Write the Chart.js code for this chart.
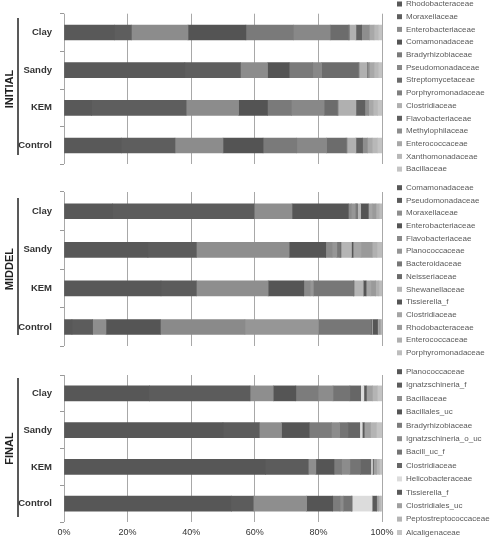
<!DOCTYPE html>
<html>
<head>
<meta charset="utf-8">
<script src="https://cdn.jsdelivr.net/npm/chart.js@4.4.1/dist/chart.umd.min.js"></script>
<style>
body { margin: 0; background: #fff; }
#wrap { position: relative; width: 493px; height: 541px; overflow: hidden; }
canvas { position: absolute; left: 0; }
</style>
</head>
<body>
<div id="wrap">
<canvas id="initial" width="493" height="178" style="top:0px"></canvas>
<canvas id="middel" width="493" height="185" style="top:175px"></canvas>
<canvas id="final" width="493" height="186" style="top:355px"></canvas>
</div>
<script>
var sites = ['Clay', 'Sandy', 'KEM', 'Control'];
var percentTicks = ['0%', '20%', '40%', '60%', '80%', '100%'];

// INITIAL
var initialFamilies = ['Rhodobacteraceae', 'Moraxellaceae', 'Enterobacteriaceae', 'Comamonadaceae',
    'Bradyrhizobiaceae', 'Pseudomonadaceae', 'Streptomycetaceae', 'Porphyromonadaceae', 'Clostridiaceae',
    'Flavobacteriaceae', 'Methylophilaceae', 'Enterococcaceae', 'Xanthomonadaceae', 'Bacillaceae'];
var initialShades = ['#595959', '#5e5e5e', '#8c8c8c', '#545454', '#7a7a7a', '#888888', '#6c6c6c',
    '#7f7f7f', '#b0b0b0', '#606060', '#8e8e8e', '#a8a8a8', '#b8b8b8', '#c4c4c4'];
var initialClay = [15.8, 5.4, 17.8, 18.2, 14.9, 11.6, 5.7, 0.4, 2.0, 1.8, 2.4, 1.5, 1.3, 1.2];
var initialSandy = [38.0, 17.5, 8.5, 6.8, 7.4, 2.8, 11.5, 0.3, 2.5, 0.2, 0.5, 1.5, 1.3, 1.2];
var initialKem = [8.7, 29.7, 16.5, 9.1, 7.5, 10.3, 4.1, 0.3, 5.6, 2.8, 1.2, 1.4, 1.4, 1.4];
var initialControl = [18.0, 16.9, 15.1, 12.6, 10.6, 9.4, 6.1, 0.3, 2.8, 2.1, 1.5, 1.5, 1.6, 1.5];

// MIDDEL
var middelFamilies = ['Comamonadaceae', 'Pseudomonadaceae', 'Moraxellaceae', 'Enterobacteriaceae',
    'Flavobacteriaceae', 'Planococcaceae', 'Bacteroidaceae', 'Neisseriaceae', 'Shewanellaceae',
    'Tissierella_f', 'Clostridiaceae', 'Rhodobacteraceae', 'Enterococcaceae', 'Porphyromonadaceae'];
var middelShades = ['#585858', '#5c5c5c', '#8e8e8e', '#555555', '#8a8a8a', '#969696', '#777777',
    '#6a6a6a', '#b5b5b5', '#555555', '#a5a5a5', '#9a9a9a', '#b0b0b0', '#bdbdbd'];
var middelClay = [15.2, 44.6, 11.9, 17.7, 1.0, 1.2, 0.4, 0.3, 1.0, 2.4, 1.2, 1.2, 1.0, 0.9];
var middelSandy = [26.4, 15.2, 29.2, 11.5, 2.0, 1.5, 1.0, 0.3, 3.3, 0.5, 2.5, 3.5, 1.5, 1.6];
var middelKem = [30.5, 11.1, 22.6, 11.2, 2.0, 1.0, 12.6, 0.2, 2.9, 0.9, 1.5, 1.5, 1.0, 1.0];
var middelControl = [2.5, 6.5, 4.2, 17.1, 26.6, 23.1, 16.5, 0.3, 0.2, 1.6, 0.4, 0.4, 0.3, 0.3];

// FINAL
var finalFamilies = ['Planococcaceae', 'Ignatzschineria_f', 'Bacillaceae', 'Bacillales_uc',
    'Bradyrhizobiaceae', 'Ignatzschineria_o_uc', 'Bacill_uc_f', 'Clostridiaceae', 'Helicobacteraceae',
    'Tissierella_f', 'Clostridiales_uc', 'Peptostreptococcaceae', 'Alcaligenaceae'];
var finalShades = ['#575757', '#5c5c5c', '#8e8e8e', '#555555', '#7c7c7c', '#8c8c8c', '#747474',
    '#666666', '#dcdcdc', '#5a5a5a', '#a0a0a0', '#b4b4b4', '#c4c4c4'];
var finalClay = [26.9, 31.6, 7.3, 7.1, 7.0, 4.7, 5.3, 3.4, 1.0, 0.8, 1.9, 1.5, 1.5];
var finalSandy = [50.0, 11.4, 7.0, 8.7, 7.0, 2.6, 2.6, 3.7, 0.8, 0.6, 2.0, 1.8, 1.8];
var finalKem = [63.3, 13.5, 2.4, 5.7, 2.4, 2.6, 3.3, 3.3, 0.5, 0.3, 1.0, 0.9, 0.8];
var finalControl = [52.7, 6.8, 16.8, 8.2, 2.3, 1.0, 2.6, 0.2, 6.3, 1.4, 0.6, 0.6, 0.5];

var fontName = '"Liberation Sans", Arial, sans-serif';

// legend list on the right + the black bracket next to the group name
var sideLegend = {
    id: 'sideLegend',
    afterDraw: function(chart, args, o) {
        var ctx = chart.ctx;
        ctx.save();
        ctx.font = '8px ' + fontName;
        ctx.textBaseline = 'middle';
        chart.data.datasets.forEach(function(ds, i) {
            var y = o.top + o.step * i;
            ctx.fillStyle = ds.backgroundColor;
            ctx.fillRect(o.x, y - 2.5, 5, 5);
            ctx.fillStyle = '#5a5a5a';
            ctx.fillText(ds.label, o.x + 9, y);
        });
        ctx.strokeStyle = '#222';
        ctx.lineWidth = 1.5;
        ctx.beginPath();
        ctx.moveTo(18, o.bracket[0]);
        ctx.lineTo(18, o.bracket[1]);
        ctx.stroke();
        ctx.restore();
    }
};

function build_chart(id, groupName, families, shades, rows, box) {
    var datasets = families.map(function(name, i) {
        return {
            label: name,
            data: rows.map(function(r) { return r[i]; }),
            backgroundColor: shades[i],
            borderWidth: 0,
            barThickness: 15
        };
    });

    var ctx = document.getElementById(id).getContext('2d');
    return new Chart(ctx, {
        type: 'bar',
        data: { labels: sites, datasets: datasets },
        options: {
            indexAxis: 'y',
            responsive: false,
            animation: false,
            layout: { padding: { top: box.padTop, bottom: box.padBottom, left: 0, right: 111 } },
            plugins: {
                legend: { display: false },
                tooltip: { enabled: false },
                sideLegend: { x: 397, top: box.legendTop, step: box.legendStep, bracket: box.bracket }
            },
            scales: {
                x: {
                    stacked: true,
                    min: 0,
                    max: 100,
                    afterFit: function(s) { s.height = box.axisHeight; },
                    ticks: {
                        display: box.showTicks,
                        stepSize: 20,
                        padding: 5,
                        color: '#333',
                        font: { family: fontName, size: 9 },
                        callback: function(v, i) { return percentTicks[i]; }
                    },
                    grid: { color: '#a8a8a8', lineWidth: 1, drawTicks: false },
                    border: { display: false }
                },
                y: {
                    stacked: true,
                    afterFit: function(s) { s.width = 64; },
                    ticks: {
                        color: '#333',
                        padding: 8,
                        font: { family: fontName, size: 9.5, weight: 'bold' }
                    },
                    grid: { drawOnChartArea: false, drawTicks: true, tickLength: 4, color: '#999', offset: true },
                    border: { display: false },
                    title: {
                        display: true,
                        text: groupName,
                        color: '#222',
                        padding: { top: 3, bottom: 0 },
                        font: { family: fontName, size: 11, weight: 'bold' }
                    }
                }
            }
        },
        plugins: [sideLegend]
    });
}

build_chart('initial', 'INITIAL', initialFamilies, initialShades,
    [initialClay, initialSandy, initialKem, initialControl],
    { padTop: 9, padBottom: 9, axisHeight: 0, showTicks: false, legendTop: 4, legendStep: 12.7, bracket: [18, 155] });

build_chart('middel', 'MIDDEL', middelFamilies, middelShades,
    [middelClay, middelSandy, middelKem, middelControl],
    { padTop: 17, padBottom: 8, axisHeight: 0, showTicks: false, legendTop: 12.7, legendStep: 12.7, bracket: [23, 160] });

build_chart('final', 'FINAL', finalFamilies, finalShades,
    [finalClay, finalSandy, finalKem, finalControl],
    { padTop: 20, padBottom: 0, axisHeight: 19, showTicks: true, legendTop: 16.7, legendStep: 13.4, bracket: [23, 162] });
</script>
</body>
</html>
